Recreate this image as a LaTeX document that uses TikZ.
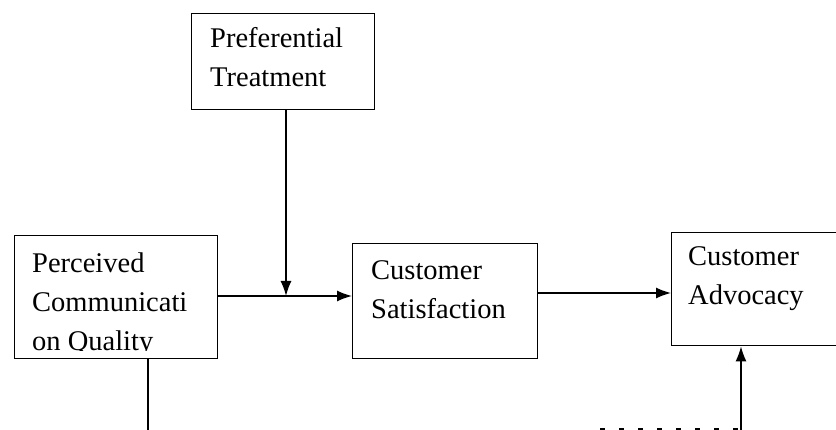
\documentclass[tikz,border=0pt]{standalone}
\usepackage{fontspec}
\setmainfont{Liberation Serif}
\usetikzlibrary{arrows.meta}
\begin{document}
\begin{tikzpicture}[x=1pt,y=-1pt,
  box/.style={draw, line width=1.4pt, rectangle, inner sep=0pt, anchor=north west},
  lbl/.style={anchor=north west, inner sep=0pt, align=left, font=\fontsize{28.5}{39}\selectfont},
  conn/.style={line width=1.4pt},
  arr/.style={conn, -{Latex[length=15pt,width=11pt]}}]
\useasboundingbox (0,0) rectangle (836,430);
\clip (0,0) rectangle (836,430);
% boxes
\node[box, minimum width=183pt, minimum height=96pt] (pref) at (191,13) {};
\node[box, minimum width=203pt, minimum height=123pt] (perc) at (14,235) {};
\node[box, minimum width=185pt, minimum height=115pt] (sat) at (352,243) {};
\node[box, minimum width=190pt, minimum height=113pt] (adv) at (671,232) {};
% texts
\node[lbl] (preft) at (210,27) {Preferential\\Treatment};
\begin{scope}
\clip (14,235) rectangle (217,351);
\node[lbl] (perct) at (32,253) {Perceived\\Communicati\\on Quality};
\end{scope}
\node[lbl] (satt) at (371,260) {Customer\\Satisfaction};
\node[lbl] (advt) at (688,246) {Customer\\Advocacy};
% junctions
\coordinate (j) at (286,296);
\coordinate (k) at (600,293);
\coordinate (pend) at (148,432);
\coordinate (aend) at (741,432);
\coordinate (dend) at (600,429);
% connectors
\draw[conn] (perc.east |- j) -- (j);
\draw[arr] (j) -- (sat.west |- j);
\draw[arr] (pref.south -| j) -- (j);
\draw[arr] (sat.east |- k) -- (adv.west |- k);
\draw[conn] (perc.south -| pend) -- (pend);
\draw[arr] (aend) -- (adv.south -| aend);
\draw[conn, dash pattern=on 5pt off 14pt] (dend) -- (aend |- dend);
\end{tikzpicture}
\end{document}
